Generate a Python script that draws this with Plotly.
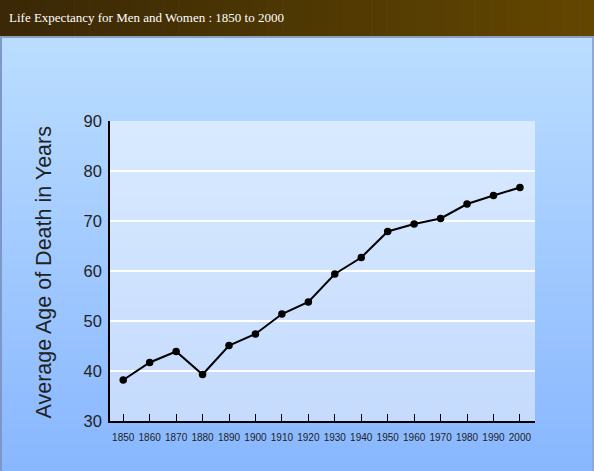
import plotly.graph_objects as go

# data
years = [1850, 1860, 1870, 1880, 1890, 1900, 1910, 1920,
         1930, 1940, 1950, 1960, 1970, 1980, 1990, 2000]
age_at_death = [38.2, 41.7, 43.9, 39.3, 45.1, 47.4, 51.4, 53.8,
                59.4, 62.7, 67.9, 69.4, 70.5, 73.4, 75.1, 76.7]
y_ticks = [30, 40, 50, 60, 70, 80, 90]
grid_vals = [40, 50, 60, 70, 80]

title_text = "Life Expectancy for Men and Women : 1850 to 2000"
y_title = "Average Age of Death in Years"

W, H = 594, 471
L, R, T, B = 110, 59, 121, 50
PW, PH = W - L - R, H - T - B


def px(x):
    return (x - L) / PW


def py(y):
    return (H - B - y) / PH


def mix(c1, c2, f):
    return "rgb(%d,%d,%d)" % tuple(round(a + (b - a) * f) for a, b in zip(c1, c2))


shapes = []

# blue panel, vertical gradient
n = 60
for i in range(n):
    y0 = 38 + (H - 38) * i / n
    y1 = 38 + (H - 38) * (i + 1) / n + 0.6
    shapes.append(dict(type="rect", xref="paper", yref="paper", layer="below",
                       x0=px(0), x1=px(W), y0=py(y1), y1=py(y0), line_width=0,
                       fillcolor=mix((186, 221, 255), (137, 183, 255), i / (n - 1))))

# brown header, horizontal gradient
n = 40
for i in range(n):
    x0 = W * i / n
    x1 = W * (i + 1) / n + 0.6
    shapes.append(dict(type="rect", xref="paper", yref="paper", layer="below",
                       x0=px(x0), x1=px(x1), y0=py(36), y1=py(0), line_width=0,
                       fillcolor=mix((58, 40, 6), (98, 70, 0), i / (n - 1))))

# panel borders
shapes.append(dict(type="rect", xref="paper", yref="paper", layer="below",
                   x0=px(0), x1=px(W), y0=py(38), y1=py(36), line_width=0,
                   fillcolor="rgb(140,160,190)"))
shapes.append(dict(type="rect", xref="paper", yref="paper", layer="below",
                   x0=px(0), x1=px(2), y0=py(H), y1=py(38), line_width=0,
                   fillcolor="rgb(125,152,200)"))
shapes.append(dict(type="rect", xref="paper", yref="paper", layer="below",
                   x0=px(W - 2), x1=px(W), y0=py(H), y1=py(38), line_width=0,
                   fillcolor="rgb(140,170,215)"))

# plot area gradient
n = 40
for i in range(n):
    shapes.append(dict(type="rect", xref="paper", yref="paper", layer="below",
                       x0=0, x1=1, y0=1 - (i + 1) / n - 0.002, y1=1 - i / n,
                       line_width=0,
                       fillcolor=mix((217, 234, 255), (197, 219, 253), i / (n - 1))))

# white grid lines
for g in grid_vals:
    shapes.append(dict(type="line", xref="paper", yref="y", layer="below",
                       x0=0, x1=1, y0=g, y1=g, line=dict(color="white", width=2)))

fig = go.Figure()
fig.add_trace(go.Scatter(
    x=years, y=age_at_death, mode="lines+markers",
    line=dict(color="black", width=2),
    marker=dict(color="black", size=7.5),
    hoverinfo="x+y", showlegend=False,
))

fig.update_layout(
    width=W, height=H,
    margin=dict(l=L, r=R, t=T, b=B),
    paper_bgcolor="rgb(160,200,255)",
    plot_bgcolor="rgba(0,0,0,0)",
    font=dict(family="Liberation Sans, Arial, sans-serif", color="#222"),
    shapes=shapes,
    xaxis=dict(
        range=[1845, 2005.7], tickvals=years, ticktext=[str(y) for y in years],
        showgrid=False, zeroline=False,
        showline=True, linecolor="black", linewidth=1.5,
        ticks="inside", ticklen=7, tickcolor="black", tickwidth=1,
        tickfont=dict(size=10, color="#222"), ticklabelstandoff=6,
    ),
    yaxis=dict(
        range=[30, 90], tickvals=y_ticks,
        showgrid=False, zeroline=False,
        showline=True, linecolor="black", linewidth=1.5,
        ticks="", tickfont=dict(size=16.5, color="#222"), ticklabelstandoff=3,
    ),
    annotations=[
        dict(text=title_text, xref="paper", yref="paper", x=px(7), y=py(17),
             xanchor="left", yanchor="middle", showarrow=False,
             font=dict(family="Liberation Serif, Times New Roman, serif",
                       size=13, color="white")),
        dict(text=y_title, xref="paper", yref="paper",
             x=px(43.5), y=py(273), xanchor="center", yanchor="middle",
             textangle=-90, showarrow=False,
             font=dict(size=21.5, color="#222")),
    ],
)

# drop the default body margin so the figure sits at the window corner
fig.write_html("out.html", config={"displayModeBar": False},
               post_script="document.body.style.margin='0px';")
